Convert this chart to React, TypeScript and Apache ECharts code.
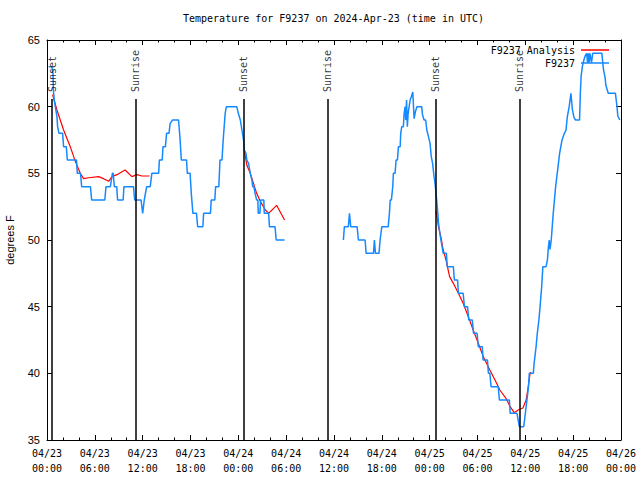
import React, { useEffect, useRef } from "react";
import * as echarts from "echarts";

// hours since 2024-04-23 00:00 UTC
const obsHours = [
  0.2, 0.6, 0.75, 0.8, 0.91, 1.04, 1.25, 1.33, 1.5, 1.96, 2.08, 2.42, 2.55, 3.7, 3.8, 4.2, 4.35, 5.45, 5.6, 7.25,
  7.4, 7.95, 8.2, 8.3, 8.45, 8.75, 8.85, 9.55, 9.65, 10.85, 11.0, 11.8, 12.0, 12.2, 12.5, 12.95, 13.15, 14.0, 14.1, 14.45,
  14.55, 14.85, 15.0, 15.3, 15.45, 15.75, 16.5, 16.7, 16.85, 17.5, 17.6, 17.95, 18.1, 18.3, 18.75, 18.9, 19.55, 19.65, 20.5, 20.6,
  21.05, 21.15, 21.55, 21.7, 21.95, 22.1, 22.35, 22.5, 23.8, 24.0, 24.25, 24.45, 24.65, 24.75, 24.95, 25.07, 25.28, 25.5, 25.7, 25.8,
  25.95, 26.1, 26.3, 26.45, 26.5, 26.7, 26.8, 27.2, 27.25, 27.8, 27.9, 28.6, 28.75, 29.8,
  33.5,
  37.18, 37.3, 37.8, 37.94, 38.1, 38.9, 39.06, 39.9, 40.03, 40.95, 41.07, 41.2, 41.65, 41.78, 42.0, 42.8, 42.95, 43.05, 43.2, 43.37,
  43.45, 43.66, 43.79, 43.96, 44.08, 44.3, 44.37, 44.5, 44.7, 44.8, 44.92, 45.0, 45.1, 45.2, 45.3, 45.55, 45.7, 45.88, 46.05, 46.2,
  46.4, 47.0, 47.1, 47.3, 47.5, 47.64, 47.85, 48.05, 48.2, 48.37, 48.55, 48.68, 48.8, 48.97, 49.1, 49.3, 49.5, 49.7, 50.1, 50.2,
  50.97, 51.1, 51.5, 51.6, 52.2, 52.36, 52.75, 52.9, 53.35, 53.5, 53.95, 54.1, 54.6, 54.7, 55.25, 55.37, 55.55, 55.7, 56.6, 56.75,
  58.0, 58.1, 58.95, 59.1, 59.25, 59.8, 60.0, 60.2, 60.4, 60.5, 61.0, 61.1, 61.35, 61.5, 61.7, 61.85, 62.05, 62.2, 62.6, 62.77,
  62.9, 63.0, 63.1, 63.25, 63.5, 63.8, 64.0, 64.3, 64.6, 64.9, 65.1, 65.27, 65.5, 65.72, 65.9, 66.1, 66.3, 66.8, 66.9, 67.0,
  67.15, 67.3, 67.5, 67.7, 67.8, 67.9, 68.0, 68.1, 68.3, 68.45, 68.7, 69.3, 69.6, 69.8, 70.0, 70.1, 70.4, 71.3, 71.4, 71.5,
  71.6, 71.85,
];
const obsTemps: (number | null)[] = [
  63, 63, 62.5, 61.25, 60.5, 60, 59.25, 58.5, 58, 58, 57, 57, 56, 56, 55, 55, 54, 54, 53, 53,
  54, 54, 55, 55, 54, 54, 53, 53, 54, 54, 53, 53, 52, 53, 54, 54, 55, 55, 56, 56,
  57, 57, 58, 58, 58.75, 59, 59, 57.5, 56, 56, 55, 55, 53.5, 52, 52, 51, 51, 52, 52, 53,
  53, 54, 54, 56, 56, 57.5, 59.5, 60, 60, 59.5, 59, 58.25, 57.5, 56.75, 56.5, 56, 55.75, 55, 54.5, 54,
  54, 53.5, 53, 53, 52, 52, 53, 53, 52, 52, 51, 51, 50, 50,
  null,
  50, 51, 51, 52, 51, 51, 50, 50, 49, 49, 50, 49, 49, 50, 51, 51, 52, 53, 53, 54,
  55, 55, 56, 56, 57, 57, 58, 58.5, 58.5, 59.5, 60, 59, 60.5, 58.5, 59.5, 60.5, 60.75, 61.1, 59.1, 59.6,
  60, 60, 59.4, 59, 59, 58.25, 57.75, 57.25, 56.25, 55.75, 54.75, 54.2, 53.5, 52.4, 51.3, 50.4, 49.7, 49, 49, 48,
  48, 47, 47, 46, 46, 45, 45, 44, 44, 43, 43, 42, 42, 41, 41, 40, 40, 39, 39, 38,
  38, 37, 37, 36.5, 36, 36, 37, 38, 39, 40, 40, 40.75, 42, 43, 44, 45, 46.5, 48, 48, 48.5,
  49.5, 50, 49.3, 50, 52, 54, 55, 56.5, 57.5, 58, 58.25, 59.25, 60, 61, 59.8, 59.2, 59, 59, 61, 62.3,
  63, 63.4, 63.8, 64, 63.3, 64, 63.3, 64, 63.3, 64, 64, 64, 64, 62.8, 62.2, 61.6, 61, 61, 60.5, 60,
  59.3, 59,
];

const anaHours = [
  0.7, 1.25, 2.08, 2.92, 3.55, 4.17, 4.59, 5.22, 6.47, 7.1, 7.73, 8.14, 8.77, 9.8, 10.65, 11.28, 11.9, 12.87,
  18.0,
  24.75, 25.07, 25.5, 25.9, 26.3, 26.75, 27.4, 27.8, 28.8, 29.8,
  40.0,
  48.75, 48.93, 49.1, 49.4, 49.7, 50.05, 50.5, 50.97, 51.6, 52.2, 52.85, 53.46, 54.1, 54.73, 55.55, 56.4, 56.8, 57.6,
  58.1, 58.6, 59.1, 59.7, 60.1, 60.3, 60.6, 60.7,
];
const anaTemps: (number | null)[] = [
  60.9, 59.75, 58.25, 57, 55.9, 55, 54.6, 54.67, 54.75, 54.6, 54.4, 54.75, 54.9, 55.25, 54.75, 54.9, 54.8, 54.8,
  null,
  56.75, 55.6, 55.0, 54.25, 53.5, 52.9, 52.25, 52, 52.6, 51.5,
  null,
  52.2, 51.75, 51, 50.25, 49.25, 48.5, 47.25, 46.75, 46, 45.25, 44.25, 43.25, 42.25, 41.25, 40.25, 39.25, 38.75, 38.1,
  37.5, 37.05, 37.25, 37.4, 38, 38.75, 40, 40.1,
];

const sunHours = [0.63, 11.16, 24.65, 35.2, 48.74, 59.25];
const sunNames = ["Sunset", "Sunrise", "Sunset", "Sunrise", "Sunset", "Sunrise"];
const sunLineTop = 60.575;
const sunLabelBase = 61.1;

const xTickLabels = [
  "04/23\n00:00", "04/23\n06:00", "04/23\n12:00", "04/23\n18:00",
  "04/24\n00:00", "04/24\n06:00", "04/24\n12:00", "04/24\n18:00",
  "04/25\n00:00", "04/25\n06:00", "04/25\n12:00", "04/25\n18:00",
  "04/26\n00:00",
];

const MONO = "'DejaVu Sans Mono', 'Liberation Mono', monospace";
const SANS = "'Liberation Sans', Arial, sans-serif";

export default function App() {
  const ref = useRef<HTMLDivElement>(null);
  useEffect(() => {
    if (!ref.current) return;
    const chart = echarts.init(ref.current, null, { renderer: "svg" });
    const pair = (h: number[], t: (number | null)[]) =>
      h.map((x, i) => [x, t[i] === null ? "-" : t[i]]);
    const xBase = {
      type: "value" as const,
      min: 0,
      max: 72,
      interval: 6,
      axisLine: { show: true, onZero: false, lineStyle: { color: "#000", width: 1 } },
      axisTick: { show: true, inside: true, length: 5, lineStyle: { color: "#000" } },
      minorTick: { show: true, splitNumber: 3, length: 2.5, lineStyle: { color: "#000" } },
      splitLine: { show: false },
    };
    const yBase = {
      type: "value" as const,
      min: 35,
      max: 65,
      interval: 5,
      axisLine: { show: true, onZero: false, lineStyle: { color: "#000", width: 1 } },
      axisTick: { show: true, inside: true, length: 5, lineStyle: { color: "#000" } },
      splitLine: { show: false },
    };
    const legendBase = {
      right: 31,
      padding: 0,
      align: "right",
      icon: "rect",
      itemWidth: 28,
      itemHeight: 1.5,
      itemGap: 6,
      textStyle: { fontFamily: MONO, fontSize: 10, color: "#000", padding: [0, 1, 0, 0] },
    };
    chart.setOption({
      animation: false,
      backgroundColor: "#fff",
      title: {
        text: "Temperature for F9237 on 2024-Apr-23 (time in UTC)",
        left: 183,
        top: 13,
        padding: 0,
        textStyle: { fontFamily: MONO, fontSize: 10, fontWeight: "normal", color: "#000" },
      },
      legend: [
        { ...legendBase, data: ["F9237 Analysis"], top: 45 },
        { ...legendBase, data: ["F9237"], top: 58 },
      ],
      grid: { left: 47, right: 19, top: 40, bottom: 40, containLabel: false, outerBoundsMode: "none" },
      xAxis: [
        {
          ...xBase,
          position: "bottom",
          axisLabel: {
            show: true,
            margin: 6,
            fontFamily: MONO,
            fontSize: 10,
            lineHeight: 15,
            color: "#000",
            formatter: (v: number) => xTickLabels[Math.round(v / 6)] ?? "",
          },
        },
        { ...xBase, position: "top", axisLabel: { show: false } },
      ],
      yAxis: [
        {
          ...yBase,
          position: "left",
          name: "degrees F",
          nameLocation: "middle",
          nameGap: 32,
          nameRotate: 90,
          nameTextStyle: { fontFamily: SANS, fontSize: 11, color: "#000" },
          axisLabel: { show: true, margin: 7, fontFamily: SANS, fontSize: 11, color: "#000" },
        },
        { ...yBase, position: "right", axisLabel: { show: false } },
      ],
      series: [
        {
          name: "F9237 Analysis",
          type: "line",
          data: pair(anaHours, anaTemps),
          showSymbol: false,
          symbol: "none",
          connectNulls: false,
          lineStyle: { color: "#ff0000", width: 1.2 },
          itemStyle: { color: "#ff0000" },
          z: 3,
        },
        {
          name: "F9237",
          type: "line",
          data: pair(obsHours, obsTemps),
          showSymbol: false,
          symbol: "none",
          connectNulls: false,
          lineStyle: { color: "#1589ff", width: 1.5 },
          itemStyle: { color: "#1589ff" },
          z: 4,
          markLine: {
            silent: true,
            symbol: ["none", "none"],
            label: { show: false },
            lineStyle: { color: "#000", width: 1.5, type: "solid" },
            data: sunHours.map((h) => [{ coord: [h, 35] }, { coord: [h, sunLineTop] }]),
          },
        },
        {
          name: "sunlabels",
          type: "scatter",
          symbolSize: 0,
          silent: true,
          data: sunHours.map((h, i) => [h, sunLabelBase, sunNames[i]]),
          label: {
            show: true,
            position: [0, 0],
            rotate: 90,
            align: "left",
            verticalAlign: "middle",
            fontFamily: MONO,
            fontSize: 10,
            color: "#000",
            formatter: (p: any) => p.data[2],
          },
          z: 5,
        },
      ],
    });
    return () => chart.dispose();
  }, []);
  return (
    <div
      ref={ref}
      style={{ position: "fixed", left: 0, top: 0, width: 640, height: 480, background: "#fff" }}
    />
  );
}
